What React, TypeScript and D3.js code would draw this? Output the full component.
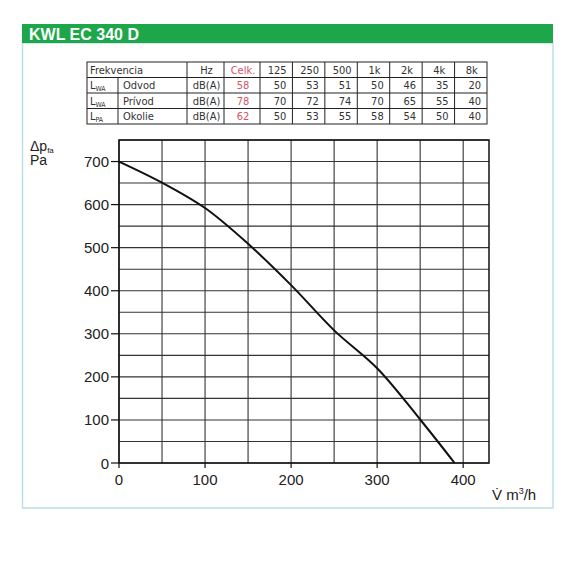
import React from "react";
import * as d3 from "d3";

const title = "KWL EC 340 D";
const freqHeaders = ["Hz", "Celk.", "125", "250", "500", "1k", "2k", "4k", "8k"];
const rowSymbols = ["WA", "WA", "PA"];
const rowNames = ["Odvod", "Prívod", "Okolie"];
const rowUnits = ["dB(A)", "dB(A)", "dB(A)"];
const celkValues = [58, 78, 62];
const odvod = [50, 53, 51, 50, 46, 35, 20];
const privod = [70, 72, 74, 70, 65, 55, 40];
const okolie = [50, 53, 55, 58, 54, 50, 40];
const bandRows = [odvod, privod, okolie];

const flowValues = [0, 50, 100, 150, 200, 250, 300, 350, 390];
const pressureValues = [700, 651, 592, 509, 413, 308, 220, 101, 0];

const xTicks = [0, 100, 200, 300, 400];
const yTicks = [0, 100, 200, 300, 400, 500, 600, 700];

export default function App() {
  const x = d3.scaleLinear().domain([0, 430]).range([119, 489]);
  const y = d3.scaleLinear().domain([0, 750]).range([463, 140]);
  const gridX = d3.range(0, 401, 50);
  const gridY = d3.range(0, 751, 50);
  const pts: [number, number][] = flowValues.map((f, i) => [f, pressureValues[i]]);
  const line = d3
    .line<[number, number]>()
    .x((d) => x(d[0]))
    .y((d) => y(d[1]))
    .curve(d3.curveCatmullRom.alpha(0.5));

  // table geometry
  const tLeft = 87;
  const tSplit = 118;
  const colEdges = [187, 224, 260];
  const bandStart = 260;
  const bandEnd = 487;
  const bandW = (bandEnd - bandStart) / 7;
  for (let i = 1; i <= 7; i++) colEdges.push(bandStart + bandW * i);
  const tTop = 62;
  const rowH = 15.5;
  const tBottom = tTop + rowH * 4;
  const tableFont = "'Liberation Sans Narrow', 'DejaVu Sans Condensed', 'Arial Narrow', sans-serif";
  const axisFont = "'Liberation Sans', Arial, sans-serif";
  const red = "#d4556a";
  const textCol = "#333";

  return (
    <svg
      width={576}
      height={576}
      style={{ position: "absolute", left: 0, top: 0, background: "#fff" }}
    >
      {/* outer box */}
      <rect x={22.5} y={43} width={530.5} height={465} fill="none" stroke="#bcdfe8" strokeWidth={1.5} />
      <rect x={22} y={24} width={531} height={19} fill="#1da64a" />
      <text x={29} y={39.5} fill="#fff" fontFamily={axisFont} fontSize={16} fontWeight="bold">
        {title}
      </text>

      {/* table */}
      <g fontFamily={tableFont} fontSize={11} fill={textCol}>
        <rect x={tLeft} y={tTop} width={bandEnd - tLeft} height={tBottom - tTop} fill="none" stroke="#222" strokeWidth={1} />
        {[1, 2, 3].map((r) => (
          <line key={"rl" + r} x1={tLeft} x2={bandEnd} y1={tTop + rowH * r} y2={tTop + rowH * r} stroke="#222" strokeWidth={1} />
        ))}
        <line x1={tSplit} x2={tSplit} y1={tTop + rowH} y2={tBottom} stroke="#222" strokeWidth={1} />
        {colEdges.slice(0, -1).map((cx, i) => (
          <line key={"cl" + i} x1={cx} x2={cx} y1={tTop} y2={tBottom} stroke="#222" strokeWidth={1} />
        ))}
        <text x={tLeft + 3} y={tTop + 11.5}>Frekvencia</text>
        {freqHeaders.map((h, i) => {
          const l = colEdges[i];
          const r = colEdges[i + 1];
          return (
            <text key={"h" + i} x={(l + r) / 2 + 1} y={tTop + 11.5} textAnchor="middle" fill={h === "Celk." ? red : textCol}>
              {h}
            </text>
          );
        })}
        {rowNames.map((name, ri) => {
          const by = tTop + rowH * (ri + 1) + 11.5;
          return (
            <g key={"row" + ri}>
              <text x={tLeft + 3} y={by}>
                L<tspan fontSize={7} dy={2}>{rowSymbols[ri]}</tspan>
              </text>
              <text x={tSplit + 5} y={by}>{name}</text>
              <text x={(colEdges[0] + colEdges[1]) / 2 + 1} y={by} textAnchor="middle">{rowUnits[ri]}</text>
              <text x={(colEdges[1] + colEdges[2]) / 2 + 1} y={by} textAnchor="middle" fill={red}>{celkValues[ri]}</text>
              {bandRows[ri].map((v, ci) => (
                <text key={ci} x={colEdges[ci + 3] - 6} y={by} textAnchor="end">{v}</text>
              ))}
            </g>
          );
        })}
      </g>

      {/* grid */}
      <g stroke="#333" strokeWidth={1.1}>
        {gridX.map((g) => (
          <line key={"gx" + g} x1={x(g)} x2={x(g)} y1={y(750)} y2={y(0)} />
        ))}
        {gridY.map((g) => (
          <line key={"gy" + g} x1={x(0)} x2={x(430)} y1={y(g)} y2={y(g)} />
        ))}
      </g>
      <rect x={x(0)} y={y(750)} width={x(430) - x(0)} height={y(0) - y(750)} fill="none" stroke="#111" strokeWidth={1.5} />

      {/* ticks */}
      <g stroke="#111" strokeWidth={1.2}>
        {yTicks.map((t) => (
          <line key={"yt" + t} x1={x(0) - 8} x2={x(0)} y1={y(t)} y2={y(t)} />
        ))}
        {xTicks.map((t) => (
          <line key={"xt" + t} x1={x(t)} x2={x(t)} y1={y(0)} y2={y(0) + 5} />
        ))}
      </g>
      <g fontFamily={axisFont} fontSize={15} fill="#222">
        {yTicks.map((t) => (
          <text key={"yl" + t} x={x(0) - 10} y={y(t) + 5.5} textAnchor="end">{t}</text>
        ))}
        {xTicks.map((t) => (
          <text key={"xl" + t} x={x(t)} y={y(0) + 22} textAnchor="middle">{t}</text>
        ))}
        <text x={30} y={151} fontSize={14}>
          Δp<tspan fontSize={8} dy={2}>fa</tspan>
        </text>
        <text x={30} y={165} fontSize={14}>Pa</text>
        <text x={492} y={500}>
          V̇ m<tspan fontSize={9} dy={-6}>3</tspan><tspan dy={6}>/h</tspan>
        </text>
      </g>

      {/* curve */}
      <path d={line(pts) || ""} fill="none" stroke="#111" strokeWidth={2} />
    </svg>
  );
}
